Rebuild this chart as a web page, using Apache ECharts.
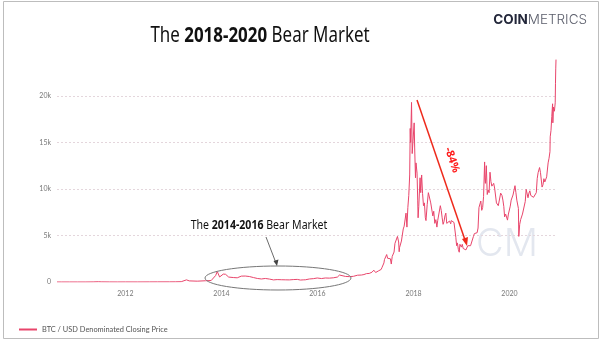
<!DOCTYPE html>
<html>
<head>
<meta charset="utf-8">
<script src="https://cdn.jsdelivr.net/npm/echarts@6/dist/echarts.min.js"></script>
<style>html,body{margin:0;padding:0;background:#fff;}#c{width:602px;height:348px;}</style>
</head>
<body>
<div id="c"></div>
<script>
// ---- data: BTC / USD closing price (approx.) ----
const earlyDates = ['2010-07-30','2010-09-01','2010-11-01','2011-01-01','2011-03-01','2011-05-01','2011-06-10','2011-07-01','2011-09-01','2011-11-01','2012-01-01','2012-04-01','2012-07-01','2012-09-01','2012-12-01','2013-01-15','2013-03-01','2013-04-10','2013-05-01','2013-07-01','2013-09-01','2013-10-15','2013-11-18','2013-11-30','2013-12-08','2013-12-18','2013-12-31','2014-01-15','2014-02-01','2014-02-25','2014-03-10','2014-04-01','2014-04-10','2014-05-01','2014-06-01','2014-06-15','2014-07-01','2014-08-01','2014-08-15','2014-09-01','2014-09-15','2014-10-01','2014-10-15','2014-11-01','2014-11-15','2014-12-01','2014-12-15','2015-01-01','2015-01-14','2015-02-01','2015-03-01','2015-04-01','2015-05-01','2015-06-01','2015-07-01','2015-07-12','2015-08-01','2015-08-25','2015-09-15','2015-10-01','2015-11-01','2015-11-04','2015-11-15','2015-12-01','2015-12-16','2015-12-31','2016-01-15','2016-02-01','2016-03-01','2016-04-01','2016-05-01','2016-06-01','2016-06-17','2016-07-01','2016-08-01','2016-08-15','2016-09-01','2016-10-01','2016-11-01','2016-12-01','2016-12-20'];
const earlyPrices = [0.07,0.06,0.28,0.4,0.8,8.7,30,13.5,5.1,3,5.5,5,9.3,12.4,13.5,20,33,230,120,90,133,160,700,1130,1000,540,750,850,830,530,630,480,400,450,630,580,640,590,490,480,470,380,390,325,400,380,330,315,180,225,260,245,235,225,260,310,280,210,230,237,325,400,320,360,450,430,380,370,430,415,450,530,750,670,600,570,575,610,730,750,800];

const lateDates = ['2017-01-01','2017-01-08','2017-01-15','2017-01-22','2017-01-29','2017-02-05','2017-02-12','2017-02-19','2017-02-26','2017-03-05','2017-03-12','2017-03-19','2017-03-26','2017-04-02','2017-04-09','2017-04-16','2017-04-23','2017-04-30','2017-05-07','2017-05-14','2017-05-21','2017-05-25','2017-05-28','2017-06-04','2017-06-11','2017-06-18','2017-06-25','2017-07-02','2017-07-09','2017-07-16','2017-07-23','2017-07-30','2017-08-06','2017-08-13','2017-08-20','2017-08-27','2017-09-01','2017-09-10','2017-09-14','2017-09-17','2017-09-24','2017-10-01','2017-10-08','2017-10-15','2017-10-22','2017-10-29','2017-11-05','2017-11-12','2017-11-19','2017-11-26','2017-12-03','2017-12-07','2017-12-10','2017-12-17','2017-12-22','2017-12-24','2017-12-31',
'2018-01-06','2018-01-10','2018-01-16','2018-01-20','2018-01-28','2018-02-02','2018-02-05','2018-02-10','2018-02-20','2018-02-25','2018-03-04','2018-03-11','2018-03-18','2018-03-25','2018-04-01','2018-04-06','2018-04-15','2018-04-24','2018-05-05','2018-05-12','2018-05-20','2018-05-28','2018-06-04','2018-06-12','2018-06-20','2018-06-28','2018-07-04','2018-07-15','2018-07-24','2018-07-31','2018-08-07','2018-08-14','2018-08-21','2018-08-28','2018-09-04','2018-09-11','2018-09-18','2018-09-25','2018-10-02','2018-10-11','2018-10-15','2018-10-25','2018-11-05','2018-11-14','2018-11-19','2018-11-25','2018-12-01','2018-12-08','2018-12-15','2018-12-20','2018-12-24','2018-12-31',
'2019-01-07','2019-01-14','2019-01-21','2019-01-28','2019-02-04','2019-02-11','2019-02-18','2019-02-25','2019-03-04','2019-03-11','2019-03-18','2019-03-25','2019-04-02','2019-04-09','2019-04-16','2019-04-23','2019-04-30','2019-05-07','2019-05-14','2019-05-21','2019-05-28','2019-06-04','2019-06-11','2019-06-18','2019-06-26','2019-06-28','2019-07-02','2019-07-09','2019-07-16','2019-07-23','2019-07-30','2019-08-06','2019-08-13','2019-08-20','2019-08-27','2019-09-03','2019-09-10','2019-09-17','2019-09-24','2019-10-01','2019-10-08','2019-10-15','2019-10-22','2019-10-26','2019-11-05','2019-11-12','2019-11-19','2019-11-25','2019-12-03','2019-12-10','2019-12-17','2019-12-24','2019-12-31',
'2020-01-07','2020-01-14','2020-01-21','2020-01-28','2020-02-04','2020-02-12','2020-02-19','2020-02-26','2020-03-04','2020-03-09','2020-03-12','2020-03-16','2020-03-19','2020-03-26','2020-04-02','2020-04-09','2020-04-16','2020-04-23','2020-04-30','2020-05-07','2020-05-14','2020-05-21','2020-05-28','2020-06-04','2020-06-11','2020-06-18','2020-06-25','2020-07-02','2020-07-09','2020-07-16','2020-07-23','2020-07-30','2020-08-06','2020-08-13','2020-08-17','2020-08-24','2020-08-31','2020-09-05','2020-09-12','2020-09-19','2020-09-26','2020-10-03','2020-10-10','2020-10-17','2020-10-21','2020-10-28','2020-11-04','2020-11-06','2020-11-12','2020-11-18','2020-11-24','2020-11-26','2020-12-01','2020-12-08','2020-12-14','2020-12-16','2020-12-18','2020-12-20'];
const latePrices = [1000,900,820,920,920,1020,1000,1050,1170,1270,1230,1020,970,1100,1190,1180,1250,1350,1580,1750,2050,2400,2200,2520,2950,2550,2500,2500,2500,1930,2750,2750,3220,4150,4100,4350,4900,4300,3250,3700,3670,4400,4600,5700,6000,6150,7400,5900,8000,9300,11500,16500,15000,19300,13800,14000,13900,
17100,14400,11200,12800,11700,8800,6900,8100,11200,9600,11500,9500,8200,8500,6900,6600,8300,9600,9800,8500,8500,7100,7600,6300,6700,5900,6600,6400,8200,7700,6900,6200,6500,7100,7400,6300,6350,6450,6550,6250,6600,6450,6400,6200,4800,3900,4200,3500,3200,4050,4000,3750,
4050,3600,3550,3450,3450,3600,3900,3800,3750,3900,4000,3950,4900,5200,5250,5400,5300,5800,8000,7900,8700,7700,8000,9200,12900,11200,10600,12500,9400,9900,9600,11800,10800,10300,10200,10600,10100,10200,8500,8300,8200,8350,8050,9550,9300,8800,8100,7000,7300,7250,6650,7300,7200,
8150,8800,8650,9350,9150,10350,9600,8800,8750,7900,4900,5000,6200,6700,6800,7300,7100,7500,8650,9950,9800,9050,9550,9800,9300,9400,9250,9100,9250,9150,9600,11100,11750,11800,12300,11750,11700,10200,10450,11100,10750,10550,11300,11350,12800,13300,14000,15600,16300,17800,19150,17100,18800,18350,19250,21300,22900,23900];

const xLabelYears = [2012, 2014, 2016, 2018, 2020];
const yTickValues = [0, 5000, 10000, 15000, 20000];
const seriesName = 'BTC / USD Denominated Closing Price';

const toTs = s => Date.parse(s + 'T00:00:00Z');
const allDates = earlyDates.concat(lateDates);
const allPrices = earlyPrices.concat(latePrices);
const seriesData = allDates.map((d, i) => [toTs(d), allPrices[i]]);

const chart = echarts.init(document.getElementById('c'), null, {renderer: 'canvas'});
const option = {
  animation: false,
  backgroundColor: '#fff',
  grid: {left: 57, right: 46, top: 54, bottom: 66, containLabel: false},
  legend: {
    left: 14, top: 321, icon: 'rect', itemWidth: 18, itemHeight: 2, itemGap: 5,
    textStyle: {fontFamily: 'Lato', fontSize: 7.4, color: '#555'},
    data: [seriesName]
  },
  xAxis: {
    type: 'value',
    min: toTs(allDates[0]),
    max: toTs(allDates[allDates.length - 1]),
    axisLine: {show: false},
    axisTick: {show: false},
    splitLine: {show: false},
    axisLabel: {
      customValues: xLabelYears.map(y => toTs(y + '-01-01')),
      formatter: v => String(new Date(v).getUTCFullYear()),
      fontFamily: 'Lato', fontSize: 7, color: '#777', margin: 8
    }
  },
  yAxis: {
    type: 'value',
    min: 0, max: 24500, interval: 5000,
    axisLine: {show: false},
    axisTick: {show: false},
    axisLabel: {
      showMaxLabel: false,
      formatter: v => (yTickValues.indexOf(v) < 0 ? '' : (v === 0 ? '0' : (v / 1000) + 'k')),
      fontFamily: 'Lato', fontSize: 7, color: '#777', margin: 6
    },
    splitLine: {show: true, showMinLine: false, showMaxLine: false, lineStyle: {color: '#e4d6dc', type: [2, 2], width: 1}}
  },
  series: [{
    name: seriesName,
    type: 'line',
    data: seriesData,
    showSymbol: false,
    symbol: 'none',
    color: '#e8456b',
    lineStyle: {width: 1, color: '#e8456b'},
    z: 3
  }],
  graphic: [
    {type: 'rect', shape: {x: 3.5, y: 1.5, width: 595, height: 337}, style: {fill: 'none', stroke: '#bdbdbd', lineWidth: 1}, silent: true, z: 0},
    {type: 'text', x: 260, y: 36, scaleX: 0.77, z: 10,
      style: {text: '{n|The }{b|2018-2020}{n| Bear Market}', align: 'center', verticalAlign: 'middle',
        rich: {n: {fontFamily: 'Noto Sans', fontSize: 22, fill: '#111'}, b: {fontFamily: 'Noto Sans', fontSize: 22, fontWeight: 'bold', fill: '#111'}}}},
    {type: 'text', x: 587, y: 20, z: 10,
      style: {text: '{b|COIN}{l|METRICS}', align: 'right', verticalAlign: 'middle',
        rich: {b: {fontFamily: 'Inter', fontSize: 13.5, fontWeight: 'bold', fill: '#23273a'}, l: {fontFamily: 'Inter', fontSize: 13.5, fontWeight: 300, fill: '#5a5d6a'}}}},
    {type: 'text', x: 476, y: 245, z: 0, silent: true,
      style: {text: 'CM', fontFamily: 'Inter', fontSize: 38, fontWeight: 300, fill: '#e3e7ef', verticalAlign: 'middle', align: 'left'}},
    {type: 'text', x: 259, y: 226, scaleX: 0.88, z: 10,
      style: {text: '{n|The }{b|2014-2016}{n| Bear Market}', align: 'center', verticalAlign: 'middle',
        rich: {n: {fontFamily: 'Noto Sans', fontSize: 12, fill: '#111'}, b: {fontFamily: 'Noto Sans', fontSize: 12, fontWeight: 'bold', fill: '#111'}}}},
    {type: 'ellipse', shape: {cx: 278, cy: 278, rx: 73, ry: 12}, style: {fill: 'none', stroke: '#777', lineWidth: 1}, z: 10},
    {type: 'line', shape: {x1: 266, y1: 237, x2: 276, y2: 263}, style: {stroke: '#444', lineWidth: 0.8}, z: 10},
    {type: 'polygon', shape: {points: [[277, 266], [273.5, 261], [278.5, 259.5]]}, style: {fill: '#444'}, z: 10},
    {type: 'line', shape: {x1: 417, y1: 100, x2: 465, y2: 240}, style: {stroke: '#ee2a1c', lineWidth: 1.5}, z: 10},
    {type: 'polygon', shape: {points: [[467, 246], [462, 239], [468, 237]]}, style: {fill: '#ee2a1c'}, z: 10},
    {type: 'text', x: 452, y: 160, rotation: -71 * Math.PI / 180, z: 10,
      style: {text: '-84%', fontFamily: 'Noto Sans', fontSize: 11, fontWeight: 'bold', fill: '#ff1a1a', align: 'center', verticalAlign: 'middle'}}
  ]
};
chart.setOption(option);
</script>
</body>
</html>
